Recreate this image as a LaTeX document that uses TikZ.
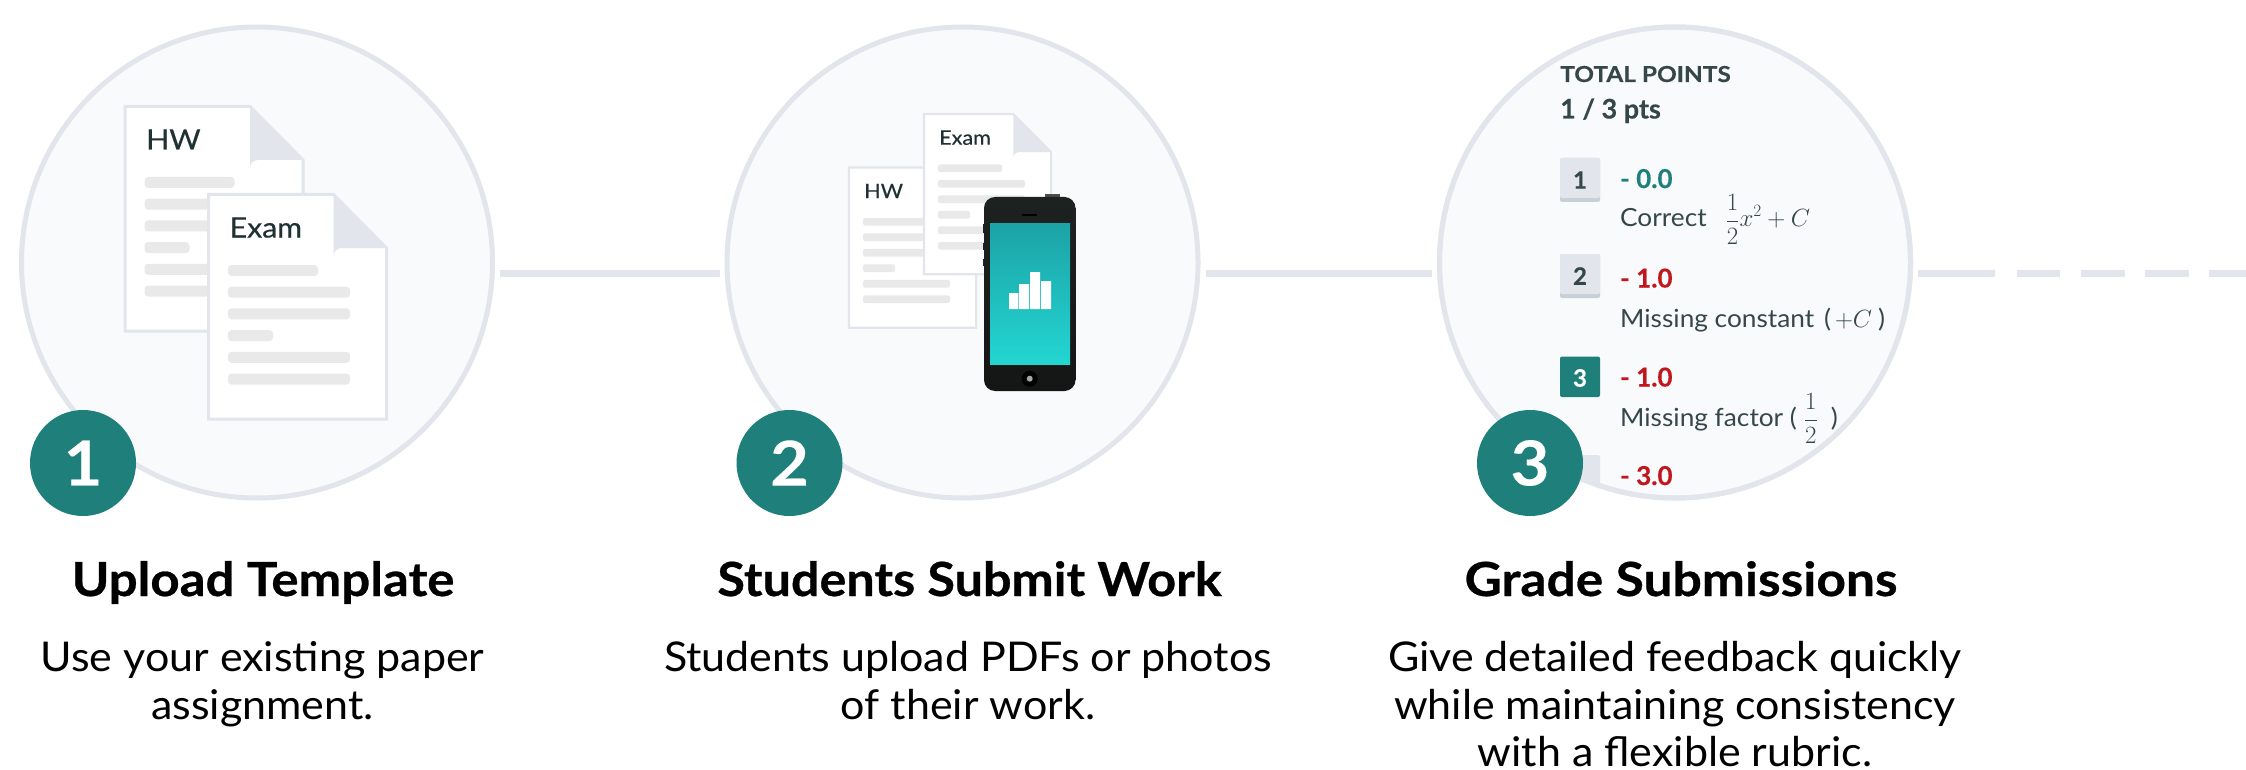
\documentclass[tikz,border=0pt]{standalone}
\usepackage{fontspec}
\setmainfont{Lato}
\definecolor{teal1}{HTML}{1E7F7B}
\definecolor{ringc}{HTML}{E2E5EB}
\definecolor{ringfill}{HTML}{F9FAFC}
\definecolor{barc}{HTML}{E9E9E9}
\definecolor{inkd}{HTML}{1F3133}
\definecolor{inkm}{HTML}{36474A}
\definecolor{redc}{HTML}{C0161C}
\definecolor{keyedge}{HTML}{C8CFD6}
\definecolor{phtop}{HTML}{1D2221}
\definecolor{phbot}{HTML}{141615}
\definecolor{scrtop}{HTML}{1CA3A6}
\definecolor{scrbot}{HTML}{23D6D2}
\newcommand{\fs}[1]{\fontsize{#1}{#1}\selectfont}
\newcommand{\wider}[2]{\addfontfeature{FakeStretch=#1,FakeBold=#2}}
\tikzset{
  x=1pt,y=-1pt,
  ring/.style={circle,draw=ringc,fill=ringfill,line width=5pt,minimum size=471pt,inner sep=0pt},
  badge/.style={circle,fill=teal1,text=white,minimum size=106pt,inner sep=0pt,font=\fs{62}\bfseries\wider{1.08}{0.2}},
  link/.style={draw=ringc,line width=7pt},
  title/.style={anchor=base,font=\fs{47}\bfseries\wider{#1}{0.6}},
  desc/.style={anchor=base,font=\fs{41}\addfontfeature{FakeStretch=1.048},text=black,inner ysep=0pt},
  txt/.style={anchor=base west,inner sep=0pt,text=inkm},
  pts/.style={txt,font=\fs{26}\bfseries\wider{1}{0.4}},
  num/.style={inner sep=0pt,font=\fs{24}\bfseries\wider{1}{0.3},text=inkm},
  keybox/.style={fill=ringc,rounded corners=2pt},
}
% doc: left, top, scale, label
\newcommand{\docicon}[4]{%
  \pgfmathsetmacro{\lblsize}{28*#3}%
  \pgfmathsetmacro{\lwd}{3*#3}%
  \pgfmathsetmacro{\rad}{3.5*#3}%
  \begin{scope}[shift={(#1,#2)},x=#3pt,y=-#3pt]
    \draw[draw=ringc,fill=white,line width=\lwd pt] (0,0) -- (125,0) -- (178,53.5) -- (178,224.5) -- (0,224.5) -- cycle;
    \fill[ringc] (125,0) -- (178,53.5) -- (133,53.5) arc (270:180:8) -- cycle;
    \foreach \yy/\ww in {70.5/90,92.2/122,113.9/122,135.6/45,157.3/122,179/122}{
      \fill[barc,rounded corners=\rad pt] (19.5,\yy) rectangle (19.5+\ww,\yy+11);
    }
    \node[anchor=base west,inner sep=0pt,text=inkd,font=\fs{\lblsize}\addfontfeature{FakeStretch=1.08,FakeBold=0.4}] at (21,43) {#4};
  \end{scope}}
\begin{document}
\begin{tikzpicture}
\useasboundingbox (0,0) rectangle (2246,770);
\fill[white] (0,0) rectangle (2246,770);
% connectors
\coordinate (d0) at (1918,273.5); \coordinate (d1) at (1995,273.5);
\coordinate (d2) at (2017,273.5); \coordinate (d3) at (2060,273.5);
\coordinate (d4) at (2081,273.5); \coordinate (d5) at (2125,273.5);
\coordinate (d6) at (2145,273.5); \coordinate (d7) at (2189,273.5);
\coordinate (d8) at (2209,273.5); \coordinate (d9) at (2246,273.5);
\coordinate (l1a) at (500,273.5); \coordinate (l1b) at (720,273.5);
\coordinate (l2a) at (1206,273.5); \coordinate (l2b) at (1432,273.5);
\draw[link] (l1a) -- (l1b);
\draw[link] (l2a) -- (l2b);
\draw[link] (d0) -- (d1); \draw[link] (d2) -- (d3); \draw[link] (d4) -- (d5); \draw[link] (d6) -- (d7); \draw[link] (d8) -- (d9);
% rings
\node[ring] (r1) at (257,262.5) {};
\node[ring] (r2) at (962.5,262.5) {};
\node[ring] (r3) at (1675,262.5) {};
% step 1
\docicon{125}{106.5}{1}{HW}
\docicon{208.5}{194.5}{1}{Exam}
% step 2
\docicon{849}{167.5}{0.714}{HW}
\docicon{924}{114}{0.714}{Exam}
% phone
\fill[black!70] (1045,194.5) rectangle (1060,198);
\fill[phtop] (983,224) rectangle (986,233);
\fill[phtop] (983,243) rectangle (986,250);
\fill[phtop] (983,259) rectangle (986,266);
\begin{scope}
\clip[rounded corners=11pt] (984,197) rectangle (1075.5,391);
\shade[top color=phtop,bottom color=phbot] (984,197) rectangle (1075.5,391);
\end{scope}
\fill[black] (1022,214) rectangle (1037,215.7);
\shade[top color=scrtop,bottom color=scrbot] (990,224) rectangle (1070,364.7);
\fill[white] (1009,293) rectangle (1018.3,309) (1019,284) rectangle (1029,309) (1030,272) rectangle (1040,309) (1041,281) rectangle (1051,309);
\fill[black] (1029.7,378.7) circle (8);
\fill[black!35] (1029.7,378.7) circle (3);
% step 3
\begin{scope}
\clip (1675,262.5) circle (233);
\node[txt,font=\fs{22}\bfseries\wider{1.11}{0.3}] (tp) at (1560,82) {TOTAL POINTS};
\node[txt,font=\fs{27}\bfseries\wider{1}{0.4}] (pt) at (1560,118.5) {1 / 3 pts};
\fill[keyedge,rounded corners=2pt] (1560,158) rectangle (1600,202);
\fill[keybox] (1560,158) rectangle (1600,198);
\node[num] (k1) at (1580,180) {1};
\node[pts,text=teal1] (p1) at (1620,188) {- 0.0};
\node[txt,font=\fs{25}\addfontfeature{FakeStretch=1.05}] (c1) at (1620,227) {Correct\hspace{19pt}\fs{26}$\displaystyle\frac{1}{2}x^2+C$};
\fill[keyedge,rounded corners=2pt] (1560,254) rectangle (1600,298);
\fill[keybox] (1560,254) rectangle (1600,294);
\node[num] (k2) at (1580,276) {2};
\node[pts,text=redc] (p2) at (1620,287.5) {- 1.0};
\node[txt,font=\fs{25}\addfontfeature{FakeStretch=1.05}] (c2) at (1620,327) {Missing constant\hspace{3pt} (\hspace{4pt}{\fs{25}$+C$}\hspace{6pt})};
\fill[teal1,rounded corners=2pt] (1560,356.5) rectangle (1600,397);
\node[num,text=white] (k3) at (1580,378) {3};
\node[pts,text=redc] (p3) at (1620,386.5) {- 1.0};
\node[txt,font=\fs{25}\addfontfeature{FakeStretch=1.05}] (c3) at (1620,426) {Missing factor (\hspace{7pt}{\fs{26}$\displaystyle\frac{1}{2}$}\hspace{13pt})};
\fill[keybox] (1560,455) rectangle (1600,520);
\node[pts,text=redc] (p4) at (1620,485) {- 3.0};
\end{scope}
% ring stroke on top in step 3
\node[circle,draw=ringc,line width=5pt,minimum size=471pt,inner sep=0pt] (r3b) at (1675,262.5) {};
% badges
\node[badge] (b1) at (83,463) {1};
\node[badge] (b2) at (789.5,463) {2};
\node[badge] (b3) at (1530,463) {3};
% titles
\node[title=1.085] (t1) at (263,596) {Upload Template};
\node[title=1.07] (t2) at (969.5,596) {Students Submit Work};
\node[title=1.095] (t3) at (1681,596) {Grade Submissions};
% descriptions
\node[desc] (d1a) at (262.6,671) {Use your existing paper};
\node[desc] (d1b) at (262.6,719.5) {assignment.};
\node[desc] (d2a) at (968,671) {Students upload PDFs or photos};
\node[desc] (d2b) at (968,719.5) {of their work.};
\node[desc] (d3a) at (1675,671) {Give detailed feedback quickly};
\node[desc] (d3b) at (1675,719.5) {while maintaining consistency};
\node[desc] (d3c) at (1675,766) {with a flexible rubric.};
\end{tikzpicture}
\end{document}
